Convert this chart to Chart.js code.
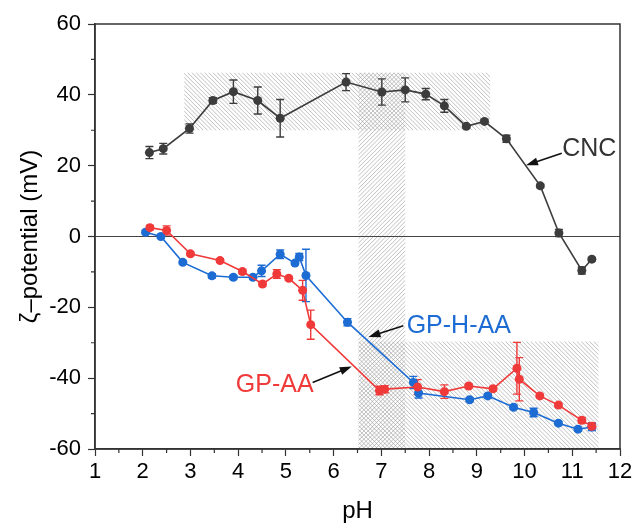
<!DOCTYPE html>
<html>
<head>
<meta charset="utf-8">
<script src="https://cdn.jsdelivr.net/npm/chart.js@4/dist/chart.umd.min.js"></script>
<style>
  body { margin: 0; background: #fff; }
  #wrap { width: 636px; height: 529px; }
</style>
</head>
<body>
<div id="wrap"><canvas id="chart"></canvas></div>
<script>
// CNC
const cncPH   = [2.14, 2.43, 2.98, 3.47, 3.90, 4.41, 4.88, 6.26, 7.01, 7.50, 7.93, 8.32, 8.78, 9.16, 9.62, 10.33, 10.72, 11.20, 11.41];
const cncZeta = [23.7, 24.8, 30.5, 38.4, 40.9, 38.4, 33.4, 43.6, 40.8, 41.4, 40.2, 36.9, 31.1, 32.5, 27.6, 14.3, 1.0, -9.6, -6.4];
const cncErr  = [1.7, 1.5, 1.3, 0.8, 3.3, 3.8, 5.3, 2.4, 3.7, 3.4, 1.6, 1.8, 0.5, 0.5, 1.0, 0.5, 1.0, 1.0, 0.5];

// GP-AA
const gpaaPH   = [2.15, 2.50, 3.00, 3.62, 4.09, 4.51, 4.81, 5.06, 5.35, 5.52, 6.96, 7.07, 7.76, 8.32, 8.83, 9.34, 9.84, 9.89, 10.32, 10.71, 11.20, 11.41];
const gpaaZeta = [2.5, 1.7, -4.9, -6.8, -9.9, -13.4, -10.6, -11.8, -15.2, -24.9, -43.5, -43.1, -42.5, -43.8, -42.2, -43.0, -37.2, -40.3, -45.0, -47.6, -51.9, -53.6];
const gpaaErr  = [0.6, 1.3, 0.5, 0.5, 0.6, 0.6, 1.2, 0.5, 2.8, 4.1, 1.2, 1.0, 2.1, 1.9, 0.6, 0.6, 7.3, 6.1, 0.5, 0.5, 0.8, 1.0];

// GP-H-AA
const gphaaPH   = [2.06, 2.38, 2.84, 3.45, 3.90, 4.31, 4.49, 4.88, 5.19, 5.28, 5.42, 6.29, 7.67, 7.78, 8.85, 9.23, 9.77, 10.19, 10.71, 11.12, 11.41];
const gphaaZeta = [1.2, 0.0, -7.3, -11.1, -11.5, -11.5, -9.7, -5.0, -7.5, -5.8, -11.0, -24.2, -41.2, -44.2, -46.1, -45.0, -48.2, -49.7, -52.7, -54.4, -53.8];
const gphaaErr  = [0.6, 0.5, 0.5, 0.6, 0.5, 0.6, 1.6, 1.2, 0.5, 1.0, 7.4, 1.0, 1.7, 1.4, 0.5, 0.6, 0.6, 1.2, 0.5, 0.5, 1.0];

// shaded pH / zeta windows: [pHmin, pHmax, zetaMin, zetaMax]
const boxCNC  = [2.87, 9.28, 29.9, 46.3];
const bandPH  = [6.52, 7.50, -60, 46.3];
const boxLow  = [6.52, 11.55, -60, -29.6];

const pts = (xs, ys) => xs.map((x, i) => ({ x: x, y: ys[i] }));

const RED = 'rgb(240,58,58)';
const BLUE = 'rgb(28,108,212)';
const GREY = 'rgb(60,60,60)';

const series = [
  { label: 'CNC', ph: cncPH, zeta: cncZeta, err: cncErr, color: GREY },
  { label: 'GP-AA', ph: gpaaPH, zeta: gpaaZeta, err: gpaaErr, color: RED },
  { label: 'GP-H-AA', ph: gphaaPH, zeta: gphaaZeta, err: gphaaErr, color: BLUE }
];

function hatch(ctx, area, dir) {
  ctx.save();
  ctx.beginPath();
  ctx.rect(area.l, area.t, area.r - area.l, area.b - area.t);
  ctx.clip();
  ctx.strokeStyle = 'rgba(150,150,150,0.6)';
  ctx.lineWidth = 1;
  const h = area.b - area.t;
  ctx.beginPath();
  for (let x = area.l - h - 10; x < area.r + h + 10; x += 4.2) {
    if (dir > 0) { ctx.moveTo(x, area.b); ctx.lineTo(x + h, area.t); }
    else { ctx.moveTo(x, area.t); ctx.lineTo(x + h, area.b); }
  }
  ctx.stroke();
  ctx.restore();
}

function arrow(ctx, x1, y1, x2, y2) {
  const a = Math.atan2(y2 - y1, x2 - x1);
  ctx.save();
  ctx.strokeStyle = '#111';
  ctx.fillStyle = '#111';
  ctx.lineWidth = 1.6;
  ctx.beginPath();
  ctx.moveTo(x1, y1);
  ctx.lineTo(x2 - 8 * Math.cos(a), y2 - 8 * Math.sin(a));
  ctx.stroke();
  ctx.beginPath();
  ctx.moveTo(x2, y2);
  ctx.lineTo(x2 - 12 * Math.cos(a) + 4 * Math.sin(a), y2 - 12 * Math.sin(a) - 4 * Math.cos(a));
  ctx.lineTo(x2 - 12 * Math.cos(a) - 4 * Math.sin(a), y2 - 12 * Math.sin(a) + 4 * Math.cos(a));
  ctx.closePath();
  ctx.fill();
  ctx.restore();
}

const decor = {
  id: 'decor',
  beforeDatasetsDraw(chart) {
    const { ctx, scales: { x, y }, chartArea } = chart;
    const rect = b => ({ l: x.getPixelForValue(b[0]), r: x.getPixelForValue(b[1]),
                         b: y.getPixelForValue(b[2]), t: y.getPixelForValue(b[3]) });
    hatch(ctx, rect(boxCNC), -1);
    hatch(ctx, rect(boxLow), -1);
    hatch(ctx, rect(bandPH), 1);

    // zero line
    ctx.save();
    ctx.strokeStyle = '#444';
    ctx.lineWidth = 1.2;
    ctx.beginPath();
    ctx.moveTo(chartArea.left, y.getPixelForValue(0));
    ctx.lineTo(chartArea.right, y.getPixelForValue(0));
    ctx.stroke();

    // error bars
    ctx.lineWidth = 1.4;
    series.forEach(s => {
      ctx.strokeStyle = s.color;
      s.ph.forEach((p, i) => {
        const px = x.getPixelForValue(p);
        const top = y.getPixelForValue(s.zeta[i] + s.err[i]);
        const bot = y.getPixelForValue(s.zeta[i] - s.err[i]);
        ctx.beginPath();
        ctx.moveTo(px, top); ctx.lineTo(px, bot);
        ctx.moveTo(px - 4, top); ctx.lineTo(px + 4, top);
        ctx.moveTo(px - 4, bot); ctx.lineTo(px + 4, bot);
        ctx.stroke();
      });
    });
    ctx.restore();
  },
  afterDraw(chart) {
    const { ctx, scales: { x, y }, chartArea } = chart;
    ctx.save();
    // frame
    ctx.strokeStyle = '#333';
    ctx.lineWidth = 1.5;
    ctx.strokeRect(chartArea.left, chartArea.top, chartArea.right - chartArea.left, chartArea.bottom - chartArea.top);

    // minor ticks
    ctx.lineWidth = 1.2;
    ctx.beginPath();
    for (let v = 1.5; v < 12; v += 1) {
      const px = x.getPixelForValue(v);
      ctx.moveTo(px, chartArea.bottom); ctx.lineTo(px, chartArea.bottom + 4);
    }
    for (let v = -50; v < 60; v += 20) {
      const py = y.getPixelForValue(v);
      ctx.moveTo(chartArea.left, py); ctx.lineTo(chartArea.left - 4, py);
    }
    ctx.stroke();

    // labels
    ctx.font = '25px "Liberation Sans", Arial, sans-serif';
    ctx.textBaseline = 'middle';
    ctx.textAlign = 'left';
    ctx.fillStyle = '#333';
    ctx.fillText('CNC', x.getPixelForValue(10.79), y.getPixelForValue(24.7));
    arrow(ctx, x.getPixelForValue(10.78), y.getPixelForValue(23.5), x.getPixelForValue(10.03), y.getPixelForValue(20.1));

    ctx.fillStyle = BLUE;
    ctx.fillText('GP-H-AA', x.getPixelForValue(7.53), y.getPixelForValue(-25.4));
    arrow(ctx, x.getPixelForValue(7.46), y.getPixelForValue(-25.2), x.getPixelForValue(6.73), y.getPixelForValue(-28.4));

    ctx.fillStyle = RED;
    ctx.fillText('GP-AA', x.getPixelForValue(3.95), y.getPixelForValue(-42.1));
    arrow(ctx, x.getPixelForValue(5.56), y.getPixelForValue(-41.2), x.getPixelForValue(6.38), y.getPixelForValue(-36.7));
    ctx.restore();
  }
};

const axisFont = { family: '"Liberation Sans", Arial, sans-serif', size: 22 };

new Chart(document.getElementById('chart'), {
  type: 'scatter',
  data: {
    datasets: series.map(s => ({
      label: s.label,
      data: pts(s.ph, s.zeta),
      showLine: true,
      borderColor: s.color,
      backgroundColor: s.color,
      borderWidth: 1.6,
      pointRadius: 4.5,
      pointHoverRadius: 4.5,
      pointBorderWidth: 0
    }))
  },
  options: {
    responsive: true,
    maintainAspectRatio: false,
    animation: false,
    layout: { padding: { top: 24, right: 16, left: 0, bottom: 0 } },
    plugins: { legend: { display: false }, tooltip: { enabled: false } },
    scales: {
      x: {
        type: 'linear',
        min: 1, max: 12,
        afterFit: s => { s.height = 80; },
        ticks: { stepSize: 1, color: '#000', font: axisFont, padding: 3, maxRotation: 0 },
        grid: { drawOnChartArea: false, tickLength: 7, tickColor: '#333', tickWidth: 1.2 },
        border: { color: '#333', width: 1.5 },
        title: { display: true, text: 'pH', color: '#000', font: { family: axisFont.family, size: 24 }, padding: { top: 0, bottom: 3 } }
      },
      y: {
        min: -60, max: 60,
        afterFit: s => { s.width = 95; },
        ticks: { stepSize: 20, color: '#000', font: axisFont, padding: 7 },
        grid: { drawOnChartArea: false, tickLength: 7, tickColor: '#333', tickWidth: 1.2 },
        border: { color: '#333', width: 1.5 },
        title: { display: true, text: 'ζ–potential (mV)', color: '#000', font: { family: axisFont.family, size: 24 }, padding: { top: 16, bottom: 0 } }
      }
    }
  },
  plugins: [decor]
});
</script>
</body>
</html>
